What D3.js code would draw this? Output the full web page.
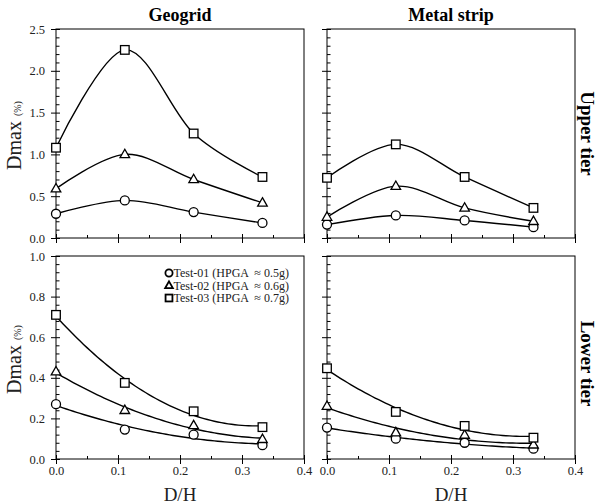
<!DOCTYPE html>
<html>
<head>
<meta charset="utf-8">
<script src="https://cdn.jsdelivr.net/npm/d3@7"></script>
<style>
body { margin: 0; background: #fff; }
svg, text { font-family: "Liberation Serif", "Times New Roman", serif; }
</style>
</head>
<body>
<script>
//data
var dh = [0, 0.111, 0.222, 0.333];
var testNames = ["Test-01 (HPGA  \u2248 0.5g)", "Test-02 (HPGA  \u2248 0.6g)", "Test-03 (HPGA  \u2248 0.7g)"];
var markers = ["circle", "triangle", "square"];

var geoUpper01 = [0.29, 0.45, 0.31, 0.18];
var geoUpper02 = [0.59, 1.00, 0.70, 0.42];
var geoUpper03 = [1.08, 2.25, 1.25, 0.73];
var metUpper01 = [0.16, 0.27, 0.21, 0.13];
var metUpper02 = [0.25, 0.62, 0.36, 0.20];
var metUpper03 = [0.72, 1.12, 0.73, 0.36];
var geoLower01 = [0.27, 0.145, 0.12, 0.068];
var geoLower02 = [0.43, 0.24, 0.165, 0.097];
var geoLower03 = [0.71, 0.375, 0.235, 0.157];
var metLower01 = [0.155, 0.10, 0.08, 0.051];
var metLower02 = [0.26, 0.13, 0.118, 0.07];
var metLower03 = [0.447, 0.232, 0.163, 0.105];

var colTitles = ["Geogrid", "Metal strip"];
var rowTitles = ["Upper tier", "Lower tier"];
var xMajor = [0, 0.1, 0.2, 0.3, 0.4];
var xMinor = [0.05, 0.15, 0.25, 0.35];

//create svg
var svg = d3.select("body").append("svg")
    .attr("width", 598)
    .attr("height", 504)
    .attr("font-family", "Liberation Serif");

//panel layout
var colX = [56, 327];
var rowY = [29, 256];
var pw = 248;
var ph = [209, 203];
var yMax = [2.5, 1.0];
var yStep = [0.5, 0.2];
var yMinorStep = [0.1, 0.04];

// least squares quadratic trend (like the spreadsheet trendline)
function quadFit(xs, ys) {
    var n = xs.length, s = [0, 0, 0, 0, 0], t = [0, 0, 0];
    for (var i = 0; i < n; i++) {
        for (var k = 0; k < 5; k++) s[k] += Math.pow(xs[i], k);
        for (var k = 0; k < 3; k++) t[k] += Math.pow(xs[i], k) * ys[i];
    }
    var m = [[s[0], s[1], s[2], t[0]], [s[1], s[2], s[3], t[1]], [s[2], s[3], s[4], t[2]]];
    for (var c = 0; c < 3; c++) {
        for (var r = c + 1; r < 3; r++) {
            var f = m[r][c] / m[c][c];
            for (var k = c; k < 4; k++) m[r][k] -= f * m[c][k];
        }
    }
    var coef = [0, 0, 0];
    for (var r = 2; r >= 0; r--) {
        var v = m[r][3];
        for (var k = r + 1; k < 3; k++) v -= m[r][k] * coef[k];
        coef[r] = v / m[r][r];
    }
    return function(x) { return coef[0] + coef[1] * x + coef[2] * x * x; };
}

function drawMarker(g, type, cx, cy, sw, sc) {
    sc = sc || 1;
    if (type == "circle") {
        g.append("circle").attr("cx", cx).attr("cy", cy).attr("r", 4.5 * sc)
            .attr("fill", "#fff").attr("stroke", "#000").attr("stroke-width", sw);
    } else if (type == "square") {
        g.append("rect").attr("x", cx - 4.3 * sc).attr("y", cy - 4.3 * sc)
            .attr("width", 8.6 * sc).attr("height", 8.6 * sc)
            .attr("fill", "#fff").attr("stroke", "#000").attr("stroke-width", sw);
    } else {
        var p = "M" + cx + "," + (cy - 5.2 * sc) + "L" + (cx + 4.8 * sc) + "," + (cy + 3.2 * sc) +
            "L" + (cx - 4.8 * sc) + "," + (cy + 3.2 * sc) + "Z";
        g.append("path").attr("d", p)
            .attr("fill", "#fff").attr("stroke", "#000").attr("stroke-width", sw);
    }
}

var panels = [
    {row: 0, col: 0, series: [geoUpper01, geoUpper02, geoUpper03]},
    {row: 0, col: 1, series: [metUpper01, metUpper02, metUpper03]},
    {row: 1, col: 0, series: [geoLower01, geoLower02, geoLower03]},
    {row: 1, col: 1, series: [metLower01, metLower02, metLower03]}
];

panels.forEach(function(p) {
    var h = ph[p.row];
    var g = svg.append("g")
        .attr("transform", "translate(" + colX[p.col] + "," + rowY[p.row] + ")");

    var x = d3.scaleLinear().domain([0, 0.4]).range([0, pw]);
    var y = d3.scaleLinear().domain([0, yMax[p.row]]).range([h, 0]);

    var nMaj = Math.round(yMax[p.row] / yStep[p.row]);
    var yMajor = d3.range(0, nMaj + 1).map(function(i) { return +(i * yStep[p.row]).toFixed(2); });
    var nMin = Math.round(yMax[p.row] / yMinorStep[p.row]);
    var yMinor = d3.range(1, nMin).map(function(i) { return i * yMinorStep[p.row]; })
        .filter(function(v, i) { return (i + 1) % Math.round(yStep[p.row] / yMinorStep[p.row]) != 0; });

    // frame
    g.append("rect").attr("width", pw).attr("height", h)
        .attr("fill", "none").attr("stroke", "#000").attr("stroke-width", 1);

    // y axis
    var ya = g.append("g")
        .call(d3.axisLeft(y).tickValues(yMajor).tickSize(5).tickPadding(6)
            .tickFormat(p.col == 0 ? d3.format(".1f") : ""));
    ya.selectAll("line").attr("x1", 4);
    g.append("g")
        .call(d3.axisRight(y).tickValues(yMinor).tickSize(3.5).tickFormat(""));

    // x axis
    var xa = g.append("g")
        .attr("transform", "translate(0," + h + ")")
        .call(d3.axisBottom(x).tickValues(xMajor).tickSize(5).tickPadding(2)
            .tickFormat(p.row == 1 ? d3.format(".1f") : ""));
    xa.selectAll("line").attr("y1", -4);
    g.append("g")
        .attr("transform", "translate(0," + h + ")")
        .call(d3.axisTop(x).tickValues(xMinor).tickSize(3).tickFormat(""));

    g.selectAll(".domain").remove();
    g.selectAll("g").attr("font-family", "Liberation Serif");
    g.selectAll(".tick line").attr("stroke", "#000");
    g.selectAll(".tick text").attr("font-size", 12.5).attr("fill", "#222");

    // lines
    p.series.forEach(function(vals, si) {
        var pts = dh.map(function(d, i) { return [d, vals[i]]; });
        if (p.row == 0) {
            var line = d3.line()
                .x(function(d) { return x(d[0]); })
                .y(function(d) { return y(d[1]); })
                .curve(d3.curveCardinal.tension(0));
            g.append("path").datum(pts).attr("d", line)
                .attr("fill", "none").attr("stroke", "#000").attr("stroke-width", 1.4);
        } else {
            var f = quadFit(dh, vals);
            var xs = d3.range(0, 61).map(function(i) { return dh[dh.length - 1] * i / 60; });
            var line = d3.line()
                .x(function(d) { return x(d); })
                .y(function(d) { return y(f(d)); });
            g.append("path").datum(xs).attr("d", line)
                .attr("fill", "none").attr("stroke", "#000").attr("stroke-width", 1.4);
        }
    });

    // markers
    p.series.forEach(function(vals, si) {
        vals.forEach(function(v, i) {
            drawMarker(g, markers[si], x(dh[i]), y(v), 1.3);
        });
    });

    // y label
    if (p.col == 0) {
        var lab = svg.append("text")
            .attr("transform", "translate(21," + (rowY[p.row] + h / 2 + 2) + ") rotate(-90)")
            .attr("text-anchor", "middle")
            .attr("fill", "#222");
        lab.append("tspan").attr("font-size", 20).text("Dmax");
        lab.append("tspan").attr("font-size", 10).attr("dx", 5).text("(%)");
    }
    // x label
    if (p.row == 1) {
        svg.append("text")
            .attr("x", colX[p.col] + pw / 2).attr("y", 501)
            .attr("text-anchor", "middle").attr("font-size", 19).attr("fill", "#222")
            .text("D/H");
    }
    // column title
    if (p.row == 0) {
        svg.append("text")
            .attr("x", colX[p.col] + pw / 2).attr("y", 21)
            .attr("text-anchor", "middle").attr("font-size", 18)
            .attr("font-weight", "bold").text(colTitles[p.col]);
    }
    // row title
    if (p.col == 1) {
        svg.append("text")
            .attr("transform", "translate(581," + (rowY[p.row] + h / 2 + (p.row == 1 ? 6 : 0)) + ") rotate(90)")
            .attr("text-anchor", "middle").attr("font-size", 19)
            .attr("font-weight", "bold").text(rowTitles[p.row]);
    }
});

//legend in lower geogrid panel
var leg = svg.append("g").attr("transform", "translate(169,273)");
testNames.forEach(function(name, i) {
    var row = leg.append("g").attr("transform", "translate(0," + (i * 12.5) + ")");
    drawMarker(row, markers[i], 0, 0, 1.8, 0.8);
    row.append("text").attr("x", 4.5).attr("y", 4)
        .attr("font-size", 12).attr("fill", "#222")
        .style("white-space", "pre")
        .text(name);
});
</script>
</body>
</html>
